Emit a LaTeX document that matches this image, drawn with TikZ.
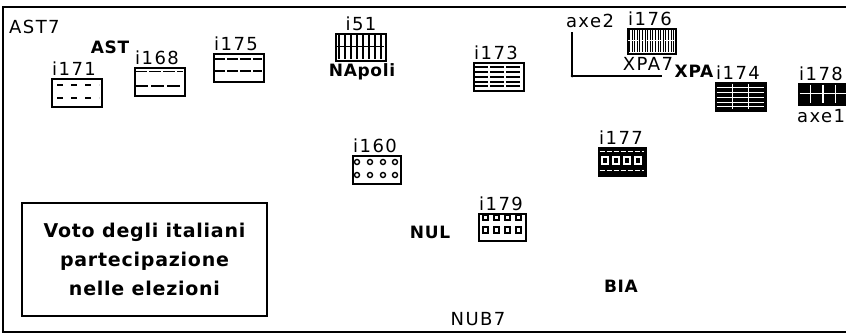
\documentclass[tikz,border=0pt]{standalone}
\usepackage{fontspec}
\setmainfont{DejaVu Sans}[LetterSpace=8, BoldFeatures={LetterSpace=4}]
\usetikzlibrary{positioning}

\begin{document}
\begin{tikzpicture}[x=1pt, y=-1pt,
  every node/.style={font=\fontsize{18}{21}\selectfont, inner sep=1pt},
  btxt/.style={font=\fontsize{17}{20}\selectfont\bfseries},
  box/.style={draw, line width=2pt, fill=white, minimum width=50pt, minimum height=28pt, inner sep=0pt, anchor=north west},
  darkbox/.style={box, fill=black},
  outline/.style={line width=2pt}]
  \useasboundingbox (0,0) rectangle (846,335);
  % Frame
  \draw[outline] (846,7) -- (3,7) -- (3,332) -- (846,332);
  \node[anchor=base west] (ast7) at (8,33) {AST7};
  \node[anchor=base] (nub7) at (478,325) {NUB7};

  % Legend
  \node[draw, line width=1.6pt, minimum width=245pt, minimum height=113pt, align=center,
    font=\fontsize{19}{29}\selectfont\bfseries] (legend) at (144.5,259.5)
    {Voto degli italiani\\partecipazione\\nelle elezioni};

  % Axes
  \coordinate (a2) at (572,32);
  \coordinate (o) at (572,76);
  \coordinate (a1) at (662,76);
  \draw[line width=1.2pt] (a2) -- (o) -- (a1);
  \fill (o) circle (1.5pt);
  \node[anchor=base] (axe2) at (590,27) {axe2};

  % Category names
  \node[btxt, anchor=base] (ast) at (110,53) {AST};
  \node[btxt, anchor=base] (napoli) at (362,76) {NApoli};
  \node[anchor=base] (xpa7) at (648,70) {XPA7};
  \node[btxt, anchor=base] (xpa) at (694,77) {XPA};
  \node[btxt, anchor=base] (nul) at (430,238) {NUL};
  \node[btxt, anchor=base] (bia) at (621,292) {BIA};

  % i171
  \node[box] (b171) at (51,78) {};
  \node[above right=1.5pt and 0pt of b171.north west] (l171) {i171};
  \begin{scope}[shift={(b171.north west)}]
    \draw[line width=1.3pt, dash pattern=on 6pt off 8pt] (6,7) -- (48,7) (6,20) -- (48,20);
  \end{scope}

  % i168
  \node[box] (b168) at (134,67) {};
  \node[above right=1.5pt and 0pt of b168.north west] (l168) {i168};
  \begin{scope}[shift={(b168.north west)}]
    \draw[line width=1pt, dash pattern=on 12pt off 2pt] (1,4) -- (49,4);
    \draw[line width=1.6pt, dash pattern=on 13pt off 3pt] (1,19) -- (49,19);
  \end{scope}

  % i175
  \node[box] (b175) at (213,53) {};
  \node[above right=1.5pt and 0pt of b175.north west] (l175) {i175};
  \begin{scope}[shift={(b175.north west)}]
    \draw[line width=2.6pt, dash pattern=on 11pt off 2pt] (1,6) -- (49,6) (1,18) -- (49,18);
  \end{scope}

  % i51
  \node[box, minimum height=27pt] (b151) at (335,33) {};
  \node[above=1.5pt of b151] (l151) {i51};
  \begin{scope}[shift={(b151.north west)}]
    \foreach \i in {0,...,7}
      \draw[line width=1.3pt] ({4+\i*6},1) -- ({4+\i*6},26);
    \draw[line width=0.5pt] (1,13.5) -- (49,13.5);
  \end{scope}

  % i173
  \node[box] (b173) at (473,62) {};
  \node[above right=1.5pt and 0pt of b173.north west] (l173) {i173};
  \begin{scope}[shift={(b173.north west)}]
    \foreach \y in {5,10,15,20,24}
      \draw[line width=1.8pt, dash pattern=on 14pt off 2pt] (1,\y) -- (49,\y);
  \end{scope}

  % i176
  \node[box, minimum width=48pt, minimum height=25pt] (b176) at (627,28) {};
  \node[above right=1.5pt and 0pt of b176.north west] (l176) {i176};
  \begin{scope}[shift={(b176.north west)}]
    \foreach \i in {0,...,17}
      \draw[line width=1.1pt] ({2.5+\i*2.6},1) -- ({2.5+\i*2.6},24);
    \draw[white, line width=1pt, dash pattern=on 5pt off 1pt] (1,12.5) -- (47,12.5);
  \end{scope}

  % i174
  \node[darkbox] (b174) at (715,82) {};
  \node[above right=1.5pt and 0pt of b174.north west] (l174) {i174};
  \begin{scope}[shift={(b174.north west)}]
    \foreach \y in {5,10,15,20,24}
      \draw[white, line width=1pt] (1.5,\y) -- (48.5,\y);
    \draw[white, line width=1pt] (17,1.5) -- (17,26.5) (33,1.5) -- (33,26.5);
  \end{scope}

  % i178
  \node[darkbox, minimum height=21pt] (b178) at (798,83) {};
  \node[above right=1.5pt and 0pt of b178.north west] (l178) {i178};
  \node[anchor=base west, inner sep=0pt] (axe1) at (797,122) {axe1};
  \begin{scope}[shift={(b178.north west)}]
    \draw[white, line width=1.8pt] (12.5,1.5) -- (12.5,19.5) (25,1.5) -- (25,19.5)
      (37.5,1.5) -- (37.5,19.5) (1.5,10.5) -- (48.5,10.5);
  \end{scope}

  % i160
  \node[box, minimum width=48pt] (b160) at (352,155) {};
  \node[above right=1.5pt and 0pt of b160.north west] (l160) {i160};
  \begin{scope}[shift={(b160.north west)}]
    \foreach \x in {5,18,31,43}
      \foreach \y in {7,20}
        \draw[line width=1.4pt] (\x,\y) circle (2.5pt);
  \end{scope}

  % i177
  \node[darkbox, minimum width=47pt] (b177) at (598,147) {};
  \node[above right=1.5pt and 0pt of b177.north west] (l177) {i177};
  \begin{scope}[shift={(b177.north west)}]
    \foreach \x in {4,15,26,37}
      \draw[white, line width=1.2pt] (\x,10) rectangle +(6,7);
    \draw[white, line width=1pt, dash pattern=on 5pt off 2pt] (1.5,4) -- (45.5,4) (1.5,23) -- (45.5,23);
  \end{scope}

  % i179
  \node[box, minimum width=47pt, minimum height=27pt] (b179) at (478,213) {};
  \node[above right=1.5pt and 0pt of b179.north west] (l179) {i179};
  \begin{scope}[shift={(b179.north west)}]
    \foreach \x in {5,16,27,38}
      \draw[line width=1.4pt] (\x,2) rectangle +(5,5) (\x,14) rectangle +(5,6);
  \end{scope}
\end{tikzpicture}
\end{document}
